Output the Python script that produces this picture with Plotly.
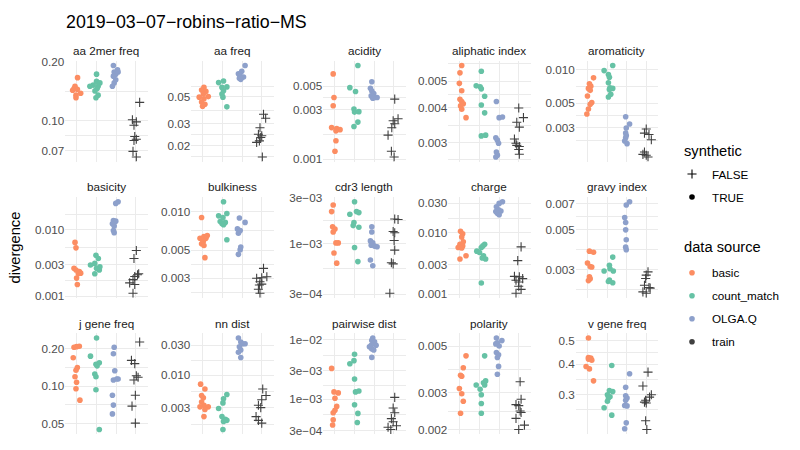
import math
import plotly.graph_objects as go

# ---------------- data ----------------
GROUPS = ["basic", "count_match", "OLGA.Q", "train"]

aa_2mer_freq = {
    "basic": [0.166, 0.150, 0.146, 0.1446, 0.143, 0.138, 0.135, 0.131],
    "count_match": [0.173, 0.159, 0.156, 0.152, 0.150, 0.150, 0.146, 0.142, 0.135, 0.131],
    "OLGA.Q": [0.1917, 0.182, 0.1775, 0.1775, 0.173, 0.169, 0.162, 0.156, 0.150],
    "train": [0.124, 0.101, 0.0985, 0.0946, 0.0828, 0.0802, 0.079, 0.0695, 0.0651],
}
aa_2mer_freq_jitter = {
    "basic": [0.03, -0.1, -0.15, 0.02, -0.22, 0.19, -0.05, -0.05],
    "count_match": [0, 0, 0.17, -0.17, 0.08, -0.34, 0.03, -0.08, 0.08, -0.03],
    "OLGA.Q": [-0.14, 0.07, -0.1, 0.1, -0.02, -0.14, -0.02, -0.1, -0.19],
    "train": [0.2, -0.17, 0.03, -0.09, -0.05, 0.03, -0.09, -0.14, 0.03],
}

aa_freq = {
    "basic": [0.0597, 0.0568, 0.0554, 0.0528, 0.0502, 0.0497, 0.0482, 0.0454, 0.0435, 0.0419],
    "count_match": [0.0654, 0.0673, 0.0603, 0.0597, 0.0561, 0.0528, 0.0497, 0.0414],
    "OLGA.Q": [0.0903, 0.0809, 0.0771, 0.0738, 0.0708, 0.0725, 0.0695],
    "train": [0.036, 0.0334, 0.0279, 0.0247, 0.0232, 0.0218, 0.0212, 0.024, 0.0161],
}
aa_freq_jitter = {
    "basic": [0.05, -0.07, 0.15, 0.02, 0.27, -0.19, 0.05, -0.07, 0.1, -0.02],
    "count_match": [-0.2, 0.05, 0.22, -0.03, 0.05, -0.03, 0.02, 0.22],
    "OLGA.Q": [0.15, -0.02, -0.19, -0.1, -0.14, 0.07, -0.07],
    "train": [0.09, 0.2, -0.09, -0.17, -0.05, -0.12, -0.26, 0, 0.03],
}

acidity = {
    "basic": [0.00659, 0.00391, 0.00326, 0.00201, 0.00197, 0.00192, 0.00187, 0.0015, 0.00119],
    "count_match": [0.00794, 0.00486, 0.00446, 0.00303, 0.00286, 0.00283, 0.00227, 0.00206],
    "OLGA.Q": [0.00553, 0.00479, 0.00452, 0.00426, 0.00405, 0.00391, 0.00391, 0.00385],
    "train": [0.00377, 0.00244, 0.00234, 0.00219, 0.00200, 0.0017, 0.00119, 0.00105],
}
acidity_jitter = {
    "basic": [-0.09, -0.05, -0.09, -0.17, 0.09, 0.26, 0.05, 0.05, 0],
    "count_match": [0.17, -0.24, 0.05, -0.03, 0.22, 0, 0.17, -0.03],
    "OLGA.Q": [-0.12, -0.19, -0.12, -0.02, -0.15, 0.02, 0.15, -0.07],
    "train": [0.05, 0.22, -0.03, 0.05, -0.1, -0.29, -0.12, 0.02],
}

aliphatic_index = {
    "basic": [0.0057, 0.00536, 0.00491, 0.00462, 0.0043, 0.00422, 0.00414, 0.00407, 0.00396, 0.00369],
    "count_match": [0.00543, 0.00481, 0.00477, 0.00469, 0.00441, 0.0041, 0.00384, 0.00317, 0.00319],
    "OLGA.Q": [0.00422, 0.00369, 0.00371, 0.00312, 0.00306, 0.00298, 0.00277, 0.0027, 0.00266],
    "train": [0.004, 0.00369, 0.00355, 0.00341, 0.00309, 0.00298, 0.00293, 0.0029, 0.00283, 0.00272],
}
aliphatic_index_jitter = {
    "basic": [0.09, 0, -0.03, 0.09, 0, 0.09, 0.17, 0.03, 0.09, 0.31],
    "count_match": [0.09, -0.17, 0.03, 0.09, 0.26, 0.09, 0.26, 0.09, 0.31],
    "OLGA.Q": [-0.14, 0, 0.17, -0.17, -0.09, -0.03, -0.14, -0.09, -0.17],
    "train": [0, 0.24, -0.1, 0.03, -0.22, -0.14, -0.1, 0.03, 0, 0.03],
}

aromaticity = {
    "basic": [0.00844, 0.00747, 0.00711, 0.00679, 0.00652, 0.00581, 0.00508, 0.0049, 0.00443, 0.004],
    "count_match": [0.0098, 0.0109, 0.00903, 0.00855, 0.00763, 0.00689, 0.00679, 0.00665, 0.00601, 0.00569],
    "OLGA.Q": [0.00378, 0.00326, 0.003, 0.0027, 0.00257, 0.00245, 0.00229, 0.00217],
    "train": [0.00294, 0.0027, 0.00262, 0.00235, 0.00183, 0.00174, 0.00171, 0.00165],
}
aromaticity_jitter = {
    "basic": [0.31, 0.1, 0.17, 0.05, 0.14, 0, 0.22, 0.14, 0.05, -0.03],
    "count_match": [-0.15, 0.29, 0.07, 0.12, 0.07, 0.15, 0.29, 0.12, 0.19, 0.07],
    "OLGA.Q": [-0.05, 0.15, -0.02, -0.05, -0.02, -0.05, -0.1, 0.02],
    "train": [0, -0.09, 0.14, 0.26, -0.09, -0.17, 0, 0.09],
}

basicity = {
    "basic": [0.0065, 0.00538, 0.00264, 0.00249, 0.00236, 0.00223, 0.0022, 0.00188, 0.0015],
    "count_match": [0.00415, 0.00371, 0.00296, 0.00313, 0.00279, 0.00264, 0.00249, 0.00218],
    "OLGA.Q": [0.0267, 0.0252, 0.0139, 0.0136, 0.0124, 0.0115, 0.0098, 0.0091],
    "train": [0.00491, 0.00371, 0.00211, 0.00199, 0.00178, 0.00218, 0.00159, 0.0015, 0.00111],
}
basicity_jitter = {
    "basic": [-0.1, -0.05, -0.15, -0.05, 0.12, 0.19, 0.07, -0.02, 0.02],
    "count_match": [-0.03, 0.09, -0.31, -0.09, 0.17, 0, 0.14, -0.09],
    "OLGA.Q": [0.1, -0.02, -0.14, -0.02, -0.19, -0.1, -0.14, -0.1],
    "train": [0.03, -0.09, 0.09, -0.05, -0.14, 0.15, -0.31, -0.05, -0.14],
}

bulkiness = {
    "basic": [0.00903, 0.00639, 0.0062, 0.0062, 0.00603, 0.00651, 0.00588, 0.00561, 0.00544, 0.00436],
    "count_match": [0.012, 0.0097, 0.0093, 0.00903, 0.0084, 0.00826, 0.00811, 0.00793, 0.00603],
    "OLGA.Q": [0.00893, 0.00826, 0.00734, 0.00712, 0.00678, 0.00528, 0.00504, 0.00463],
    "train": [0.00359, 0.003, 0.00303, 0.00309, 0.00282, 0.00266, 0.0027, 0.00246, 0.00229],
}
bulkiness_jitter = {
    "basic": [-0.07, 0.05, -0.15, 0.15, -0.02, 0.22, 0.02, -0.07, 0.05, 0.1],
    "count_match": [0.05, 0.22, -0.2, 0.02, -0.12, 0.14, -0.03, 0.05, 0.22],
    "OLGA.Q": [-0.14, 0.15, -0.24, -0.1, -0.19, -0.07, -0.1, -0.19],
    "train": [0.09, -0.26, 0, 0.26, -0.09, -0.12, 0, -0.17, -0.09],
}

cdr3_length = {
    "basic": [0.00252, 0.00215, 0.0015, 0.00142, 0.00132, 0.00102, 0.00102, 0.0008, 0.000629],
    "count_match": [0.00272, 0.00202, 0.00215, 0.0021, 0.00166, 0.00154, 0.00148, 0.000915, 0.000653],
    "OLGA.Q": [0.0015, 0.00132, 0.00107, 0.00102, 0.000966, 0.000945, 0.00093, 0.000679, 0.000591],
    "train": [0.0018, 0.00178, 0.00134, 0.0013, 0.00108, 0.000858, 0.000634, 0.000618, 0.000307],
}
cdr3_length_jitter = {
    "basic": [-0.09, -0.17, -0.12, 0, -0.09, 0.05, 0.17, -0.05, 0.09],
    "count_match": [0, -0.24, 0.1, 0.22, -0.03, -0.07, 0.22, 0, 0.17],
    "OLGA.Q": [-0.12, -0.12, -0.19, -0.07, -0.15, 0.02, 0.15, -0.19, -0.07],
    "train": [0.05, 0.22, -0.03, 0.05, 0.02, 0.05, -0.12, -0.03, -0.2],
}

charge = {
    "basic": [0.01057, 0.00957, 0.00846, 0.00713, 0.00648, 0.00609, 0.00572, 0.00564, 0.0042, 0.00372],
    "count_match": [0.00648, 0.00609, 0.00572, 0.005, 0.00475, 0.0042, 0.00372, 0.00387, 0.00151],
    "OLGA.Q": [0.0319, 0.03, 0.0265, 0.0235, 0.0221, 0.0207, 0.0226, 0.0196],
    "train": [0.00587, 0.0035, 0.00194, 0.0019, 0.00178, 0.00168, 0.00157, 0.00134, 0.00119, 0.00103],
}
charge_jitter = {
    "basic": [0.03, 0.14, 0.09, 0.17, 0, 0.14, -0.09, 0.09, 0.31, 0],
    "count_match": [0.26, 0.17, 0.09, -0.14, 0, 0.2, 0.31, 0.14, 0.09],
    "OLGA.Q": [0.17, 0, -0.14, -0.03, -0.17, -0.09, 0.09, 0],
    "train": [0.12, -0.05, -0.22, 0.03, 0.2, -0.14, 0, 0, 0.12, -0.14],
}

gravy_index = {
    "basic": [0.0038, 0.00375, 0.00326, 0.00312, 0.0031, 0.00273, 0.0026, 0.00266],
    "count_match": [0.00352, 0.00317, 0.00294, 0.00294, 0.00303, 0.00262, 0.00253, 0.00257],
    "OLGA.Q": [0.00718, 0.00688, 0.00586, 0.0055, 0.005, 0.0044, 0.004, 0.00387],
    "train": [0.00291, 0.00279, 0.00267, 0.00245, 0.00238, 0.00236, 0.00225, 0.00221],
}
gravy_index_jitter = {
    "basic": [0.1, 0.31, 0, 0.14, 0.22, 0.1, 0.05, 0.14],
    "count_match": [0.29, 0.12, -0.15, 0.32, 0.15, 0.12, 0.29, 0.07],
    "OLGA.Q": [0.15, -0.02, -0.1, -0.05, -0.05, -0.02, -0.05, -0.02],
    "train": [0.09, 0, -0.03, -0.09, 0.14, 0.2, -0.17, 0],
}

j_gene_freq = {
    "basic": [0.205, 0.2073, 0.2087, 0.169, 0.141, 0.134, 0.119, 0.1075, 0.0953, 0.0772],
    "count_match": [0.243, 0.174, 0.150, 0.154, 0.1455, 0.125, 0.119, 0.0935, 0.0449],
    "OLGA.Q": [0.205, 0.1817, 0.1328, 0.112, 0.1142, 0.1142, 0.0845, 0.0705, 0.0599],
    "train": [0.226, 0.161, 0.1516, 0.1213, 0.1177, 0.112, 0.0845, 0.0692, 0.0505],
}
j_gene_freq_jitter = {
    "basic": [-0.15, -0.02, 0.12, -0.19, 0.02, -0.05, -0.1, -0.02, -0.05, 0.15],
    "count_match": [0, -0.31, -0.03, 0.14, 0.03, -0.09, -0.03, -0.03, 0.14],
    "OLGA.Q": [-0.1, -0.14, -0.07, -0.14, 0.03, 0.1, -0.19, -0.14, -0.19],
    "train": [0.2, -0.22, -0.05, 0.03, 0.12, -0.09, -0.02, -0.19, -0.02],
}

nn_dist = {
    "basic": [0.00716, 0.00598, 0.00472, 0.00433, 0.00372, 0.0033, 0.00311, 0.00311, 0.00282, 0.00217],
    "count_match": [0.0049, 0.00419, 0.00359, 0.00293, 0.00217, 0.00197, 0.00189, 0.00182, 0.00135],
    "OLGA.Q": [0.039, 0.0338, 0.0317, 0.0317, 0.0283, 0.0251, 0.0231, 0.0191],
    "train": [0.00598, 0.00472, 0.00403, 0.0033, 0.00302, 0.00217, 0.00189, 0.00171],
}
nn_dist_jitter = {
    "basic": [-0.12, 0.1, -0.07, 0.02, -0.07, 0.05, -0.15, 0.27, 0.1, 0.05],
    "count_match": [0.22, 0.05, 0.02, -0.2, -0.03, 0.14, 0.22, 0.05, 0.02],
    "OLGA.Q": [-0.19, -0.07, 0.03, 0.15, -0.14, -0.07, -0.19, -0.07],
    "train": [0.05, 0.22, 0, -0.17, -0.05, -0.29, -0.17, 0],
}

pairwise_dist = {
    "basic": [0.0033, 0.00133, 0.00128, 0.00104, 0.00076, 0.000656, 0.000593, 0.000452, 0.00037],
    "count_match": [0.00571, 0.00445, 0.00394, 0.00219, 0.00133, 0.00138, 0.00081, 0.00058, 0.000408],
    "OLGA.Q": [0.01066, 0.00974, 0.00918, 0.00809, 0.00809, 0.00762, 0.00697, 0.00671, 0.00505],
    "train": [0.001077, 0.000714, 0.000593, 0.000474, 0.000419, 0.000339, 0.00036, 0.000311],
}
pairwise_dist_jitter = {
    "basic": [-0.17, -0.05, 0.17, 0, 0.09, 0, -0.09, -0.09, -0.12],
    "count_match": [0, -0.03, -0.24, 0, 0.05, 0.22, 0, 0.17, 0.14],
    "OLGA.Q": [-0.07, -0.12, 0.02, -0.15, 0.1, -0.24, -0.12, -0.02, -0.12],
    "train": [0.05, -0.03, 0.05, -0.12, -0.03, -0.29, 0.14, -0.15],
}

polarity = {
    "basic": [0.00449, 0.00394, 0.00363, 0.00359, 0.00314, 0.00296, 0.00273, 0.00239],
    "count_match": [0.00449, 0.00341, 0.00334, 0.00326, 0.00326, 0.00311, 0.00293, 0.00266, 0.00239],
    "OLGA.Q": [0.00546, 0.00531, 0.00518, 0.00512, 0.005, 0.00466, 0.00454, 0.00441, 0.004, 0.00367],
    "train": [0.00338, 0.00279, 0.00263, 0.0026, 0.00245, 0.00241, 0.00226, 0.0021, 0.002],
}
polarity_jitter = {
    "basic": [0.31, 0.17, 0.03, 0.09, -0.03, 0.09, 0.17, 0.03],
    "count_match": [0.26, 0.31, 0.2, 0.26, -0.17, 0.03, 0.09, 0.09, 0.09],
    "OLGA.Q": [-0.14, 0.14, -0.09, -0.17, 0, -0.14, -0.03, -0.09, -0.03, -0.09],
    "train": [0.07, 0.12, -0.14, 0, 0.07, 0.12, -0.14, 0.29, 0],
}

v_gene_freq = {
    "basic": [0.5125, 0.4267, 0.424, 0.416, 0.42, 0.3916, 0.383, 0.342],
    "count_match": [0.3952, 0.312, 0.309, 0.30, 0.2907, 0.2945, 0.282, 0.2653, 0.2474],
    "OLGA.Q": [0.366, 0.3218, 0.2972, 0.2907, 0.2847, 0.2712, 0.27, 0.23, 0.2176],
    "train": [0.3716, 0.326, 0.30, 0.2934, 0.2847, 0.2797, 0.2775, 0.2348, 0.216],
}
v_gene_freq_jitter = {
    "basic": [0.05, 0.05, 0.17, 0.22, 0.05, -0.07, 0.1, 0.31],
    "count_match": [0.24, 0.12, 0.29, 0.02, 0.07, 0.15, 0.02, -0.15, 0.24],
    "OLGA.Q": [0.15, -0.05, -0.05, 0.02, -0.05, -0.1, 0.02, -0.02, -0.1],
    "train": [0.09, -0.17, 0.26, 0.17, -0.03, -0.09, 0, -0.03, 0.03],
}

# y-axis breaks per panel (values and printed labels)
TICKS = {
    "aa 2mer freq": ([0.07, 0.1, 0.2], ["0.07", "0.10", "0.20"]),
    "aa freq": ([0.02, 0.03, 0.05], ["0.02", "0.03", "0.05"]),
    "acidity": ([0.001, 0.003, 0.005], ["0.001", "0.003", "0.005"]),
    "aliphatic index": ([0.003, 0.004, 0.005], ["0.003", "0.004", "0.005"]),
    "aromaticity": ([0.003, 0.005, 0.01], ["0.003", "0.005", "0.010"]),
    "basicity": ([0.001, 0.003, 0.01], ["0.001", "0.003", "0.010"]),
    "bulkiness": ([0.003, 0.005, 0.01], ["0.003", "0.005", "0.010"]),
    "cdr3 length": ([3e-4, 1e-3, 3e-3], ["3e\u221204", "1e\u221203", "3e\u221203"]),
    "charge": ([0.001, 0.003, 0.01, 0.03], ["0.001", "0.003", "0.010", "0.030"]),
    "gravy index": ([0.003, 0.005, 0.007], ["0.003", "0.005", "0.007"]),
    "j gene freq": ([0.05, 0.1, 0.2], ["0.05", "0.10", "0.20"]),
    "nn dist": ([0.003, 0.01, 0.03], ["0.003", "0.010", "0.030"]),
    "pairwise dist": ([3e-4, 1e-3, 3e-3, 1e-2], ["3e\u221204", "1e\u221203", "3e\u221203", "1e\u221202"]),
    "polarity": ([0.002, 0.003, 0.005], ["0.002", "0.003", "0.005"]),
    "v gene freq": ([0.3, 0.4, 0.5], ["0.3", "0.4", "0.5"]),
}

PANELS = [
    ("aa 2mer freq", aa_2mer_freq, aa_2mer_freq_jitter),
    ("aa freq", aa_freq, aa_freq_jitter),
    ("acidity", acidity, acidity_jitter),
    ("aliphatic index", aliphatic_index, aliphatic_index_jitter),
    ("aromaticity", aromaticity, aromaticity_jitter),
    ("basicity", basicity, basicity_jitter),
    ("bulkiness", bulkiness, bulkiness_jitter),
    ("cdr3 length", cdr3_length, cdr3_length_jitter),
    ("charge", charge, charge_jitter),
    ("gravy index", gravy_index, gravy_index_jitter),
    ("j gene freq", j_gene_freq, j_gene_freq_jitter),
    ("nn dist", nn_dist, nn_dist_jitter),
    ("pairwise dist", pairwise_dist, pairwise_dist_jitter),
    ("polarity", polarity, polarity_jitter),
    ("v gene freq", v_gene_freq, v_gene_freq_jitter),
]

TITLE = "2019\u221203\u221207\u2212robins\u2212ratio\u2212MS"

# ---------------- styling / layout ----------------
# The page body keeps the browser's default 8px margin; the figure is sized
# so that figure + margin exactly fills the 800x450 window.
PAGE_MARGIN = 8
FIG_W, FIG_H = 800 - 2 * PAGE_MARGIN, 450 - 2 * PAGE_MARGIN
FONT = "Liberation Sans, Arial, Helvetica, sans-serif"
COLORS = {"basic": "#FC8D62", "count_match": "#66C2A5", "OLGA.Q": "#8DA0CB", "train": "#404040"}
GRID = "#EBEBEB"

# panel placement in window pixels
COL_LEFT = [65.2, 191.2, 323.2, 448.2, 575.7]
PANEL_W = 82.3
ROW_TOP = [56.0, 195.5, 335.0]
PANEL_H = 103.0


def px(x):
    return (x - PAGE_MARGIN) / FIG_W


def py(y):
    return 1 - (y - PAGE_MARGIN) / FIG_H


def minor_breaks(major_log, lo, hi):
    """ggplot2-style regular minor breaks (midpoints in log space)."""
    b = sorted(major_log)
    bd = b[1] - b[0]
    if lo < b[0]:
        b = [b[0] - bd] + b
    if hi > b[-1]:
        b = b + [b[-1] + bd]
    mids = [(a + c) / 2 for a, c in zip(b[:-1], b[1:])]
    return [10 ** m for m in mids if lo <= m <= hi]


fig = go.Figure()
layout = dict(
    width=FIG_W, height=FIG_H, autosize=False,
    margin=dict(l=0, r=0, t=0, b=0, pad=0),
    paper_bgcolor="white", plot_bgcolor="white",
    font=dict(family=FONT, color="#000000"),
    showlegend=True,
)
annotations = []

for i, (name, vals, jit) in enumerate(PANELS, start=1):
    r, c = divmod(i - 1, 5)
    x0, x1 = px(COL_LEFT[c]), px(COL_LEFT[c] + PANEL_W)
    y1, y0 = py(ROW_TOP[r]), py(ROW_TOP[r] + PANEL_H)

    # free log10 y scale, expanded by 5% like ggplot2
    all_logs = [math.log10(v) for g in GROUPS for v in vals[g]]
    lo, hi = min(all_logs), max(all_logs)
    pad = 0.05 * (hi - lo)
    lo, hi = lo - pad, hi + pad

    tvals, ttext = TICKS[name]
    minors = minor_breaks([math.log10(t) for t in tvals], lo, hi)

    sfx = "" if i == 1 else str(i)
    layout["xaxis" + sfx] = dict(
        domain=[x0, x1], anchor="y" + sfx, range=[0.4, 4.6],
        tickvals=[1, 2, 3, 4], showticklabels=False, ticks="",
        showgrid=True, gridcolor=GRID, gridwidth=1.1,
        zeroline=False, showline=False, fixedrange=True,
    )
    layout["yaxis" + sfx] = dict(
        domain=[y0, y1], anchor="x" + sfx, type="log", range=[lo, hi],
        tickmode="array", tickvals=tvals, ticktext=ttext, ticks="",
        tickfont=dict(size=11.7, color="#4D4D4D", family=FONT),
        showgrid=True, gridcolor=GRID, gridwidth=1.1,
        minor=dict(tickmode="array", tickvals=minors, showgrid=True,
                   gridcolor=GRID, gridwidth=0.55, ticks=""),
        zeroline=False, showline=False, fixedrange=True,
    )

    for k, g in enumerate(GROUPS):
        xs = [k + 1 + j for j in jit[g]]
        if g == "train":
            marker = dict(symbol="cross-thin", size=6.5, color=COLORS[g],
                          line=dict(color=COLORS[g], width=1.1))
        else:
            marker = dict(symbol="circle", size=5.6, color=COLORS[g],
                          line=dict(width=0))
        fig.add_trace(go.Scatter(
            x=xs, y=vals[g], mode="markers", marker=marker,
            xaxis="x" + sfx, yaxis="y" + sfx, showlegend=False,
            hovertemplate=f"{name}<br>{g}: %{{y}}<extra></extra>",
        ))

    annotations.append(dict(
        text=name, x=(x0 + x1) / 2, y=py(ROW_TOP[r] - 10.5),
        xref="paper", yref="paper", xanchor="center", yanchor="middle",
        showarrow=False, font=dict(size=11.7, color="#1A1A1A", family=FONT),
    ))

# plot title and y-axis title
annotations.append(dict(
    text=TITLE, x=px(COL_LEFT[0] - 1), y=py(16), xref="paper", yref="paper",
    xanchor="left", yanchor="middle", showarrow=False,
    font=dict(size=17.8, color="#000000", family=FONT),
))
annotations.append(dict(
    text="divergence", x=px(15), y=py(247), xref="paper", yref="paper",
    xanchor="center", yanchor="middle", textangle=-90, showarrow=False,
    font=dict(size=14.7, color="#000000", family=FONT),
))
# legend titles
for txt, yy in [("synthetic", 148), ("data source", 247)]:
    annotations.append(dict(
        text=txt, x=px(682), y=py(yy), xref="paper", yref="paper",
        xanchor="left", yanchor="middle", showarrow=False,
        font=dict(size=14.7, color="#000000", family=FONT),
    ))

# legend entries (key-only traces shown by the library's legends)
legend_items = [
    ("FALSE", "legend", dict(symbol="cross-thin", size=6.5, color="#000000",
                             line=dict(color="#000000", width=1.1))),
    ("TRUE", "legend", dict(symbol="circle", size=5.6, color="#000000")),
    ("basic", "legend2", dict(symbol="circle", size=5.6, color=COLORS["basic"])),
    ("count_match", "legend2", dict(symbol="circle", size=5.6, color=COLORS["count_match"])),
    ("OLGA.Q", "legend2", dict(symbol="circle", size=5.6, color=COLORS["OLGA.Q"])),
    ("train", "legend2", dict(symbol="circle", size=5.6, color=COLORS["train"])),
]
for lbl, leg, mk in legend_items:
    fig.add_trace(go.Scatter(
        x=[None], y=[None], mode="markers", marker=mk, name=lbl,
        legend=leg, legendgroup=lbl, showlegend=True, hoverinfo="skip",
    ))

leg_common = dict(
    xanchor="left", yanchor="top", bgcolor="rgba(0,0,0,0)", borderwidth=0,
    font=dict(size=11.7, color="#000000", family=FONT),
    itemwidth=30, traceorder="grouped", tracegroupgap=4,
    itemclick=False, itemdoubleclick=False,
)
layout["legend"] = dict(x=px(672), y=py(157), **leg_common)
layout["legend2"] = dict(x=px(672), y=py(258), **leg_common)
layout["annotations"] = annotations

fig.update_layout(**layout)
fig.write_html("out.html")
